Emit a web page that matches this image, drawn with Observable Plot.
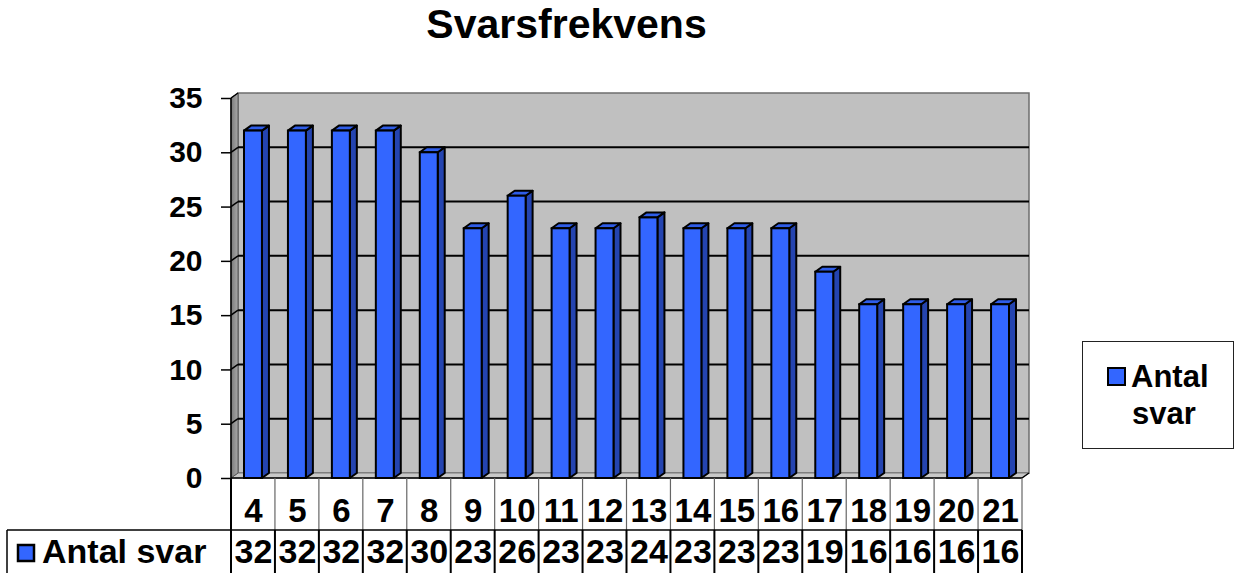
<!DOCTYPE html>
<html>
<head>
<meta charset="utf-8">
<script src="https://cdn.jsdelivr.net/npm/d3@7"></script>
<script src="https://cdn.jsdelivr.net/npm/@observablehq/plot@0.6"></script>
<style>
  html, body { margin: 0; padding: 0; background: #fff; }
  body { width: 1241px; height: 573px; position: relative; overflow: hidden; font-family: "Liberation Sans", Arial, sans-serif; }
  #title { position: relative; height: 60px; }
  #title span { position: absolute; left: 0; width: 1133px; top: 4px; text-align: center; font-size: 41px; line-height: 40px; font-weight: bold; color: #000; }
  #legend { position: absolute; left: 1082px; top: 341px; width: 150px; height: 106px; border: 1px solid #222; background: #fff; }
  #legend .sw { position: absolute; left: 24px; top: 25px; width: 15px; height: 15px; background: #3366ff; border: 2px solid #000; }
  #legend .t { position: absolute; font-size: 31px; line-height: 31px; font-weight: bold; color: #000; white-space: nowrap; }
</style>
</head>
<body>
<div id="title"><span>Svarsfrekvens</span></div>
<div id="chart"></div>
<div id="legend"><div class="sw"></div><div class="t" id="l1" style="left:48px;top:19px"></div><div class="t" id="l2" style="left:49px;top:56px"></div></div>
<script>
// ---- data ----
const categories = ["4","5","6","7","8","9","10","11","12","13","14","15","16","17","18","19","20","21"];
const answers = [32,32,32,32,30,23,26,23,23,24,23,23,23,19,16,16,16,16];
const yTicks = [0,5,10,15,20,25,30,35];
const seriesName = "Antal svar";

const rows = categories.map((c, i) => ({cat: c, value: answers[i]}));

// legend text
document.getElementById("l1").textContent = seriesName.split(" ")[0];
document.getElementById("l2").textContent = seriesName.split(" ")[1];

// ---- 3D styling ----
const DX = 7, DY = 5;
const INSET = 13;
const FRONT = "#3366ff", SIDE = "#2444b0", TOP = "#2f5de8";
const NS = "http://www.w3.org/2000/svg";
function el(tag, attrs = {}) {
  const e = document.createElementNS(NS, tag);
  for (const k in attrs) e.setAttribute(k, attrs[k]);
  return e;
}
function poly(points, attrs) {
  return el("polygon", Object.assign({points: points.map(p => p.join(",")).join(" ")}, attrs));
}
function line(x1, y1, x2, y2, attrs) {
  return el("line", Object.assign({x1, y1, x2, y2}, attrs));
}
function frameGeom(scales) {
  const {x, y} = scales;
  const bw = x(categories[1]) - x(categories[0]);
  const x0 = x(categories[0]);
  const x1 = x(categories[categories.length - 1]) + bw;
  return {x, y, bw, x0, x1, y0: y(0), yTop: y(yTicks[yTicks.length - 1])};
}

// walls + gridlines
function walls(index, scales, values, dims) {
  const {y, x0, x1, y0, yTop} = frameGeom(scales);
  const g = el("g");
  const defs = el("defs");
  const grad = el("linearGradient", {id: "lw", x1: "0", x2: "1", y1: "0", y2: "0"});
  grad.appendChild(el("stop", {offset: "0", "stop-color": "#7a7a7a"}));
  grad.appendChild(el("stop", {offset: "1", "stop-color": "#a8a8a8"}));
  defs.appendChild(grad);
  g.appendChild(defs);
  g.appendChild(poly([[x0 + DX, yTop - DY], [x1 + DX, yTop - DY], [x1 + DX, y0 - DY], [x0 + DX, y0 - DY]],
    {fill: "#c0c0c0", stroke: "#6e6e6e", "stroke-width": 1.5}));
  g.appendChild(poly([[x0, y0], [x1, y0], [x1 + DX, y0 - DY], [x0 + DX, y0 - DY]],
    {fill: "#c8c8c8", stroke: "#7a7a7a", "stroke-width": 1}));
  g.appendChild(poly([[x0, yTop], [x0 + DX, yTop - DY], [x0 + DX, y0 - DY], [x0, y0]],
    {fill: "url(#lw)", stroke: "#555", "stroke-width": 1}));
  for (const t of yTicks) {
    if (t === 0) continue;
    const yy = y(t);
    if (t !== yTicks[yTicks.length - 1]) {
      g.appendChild(line(x0 + DX, yy - DY, x1 + DX, yy - DY, {stroke: "#000", "stroke-width": 2}));
    }
    g.appendChild(line(x0, yy, x0 + DX, yy - DY, {stroke: "#000", "stroke-width": 1.5}));
  }
  g.appendChild(line(x0, yTop, x0, y0, {stroke: "#000", "stroke-width": 1.5}));
  g.appendChild(line(x0, y0, x1, y0, {stroke: "#000", "stroke-width": 1.5}));
  g.appendChild(line(x1, y0, x1 + DX, y0 - DY, {stroke: "#000", "stroke-width": 1.5}));
  return g;
}

// side and top faces of bars
function barDepth(index, scales, values, dims) {
  const {x, y, bw, y0} = frameGeom(scales);
  const g = el("g");
  for (const r of rows) {
    const xl = x(r.cat) + INSET, xr = x(r.cat) + bw - INSET, yt = y(r.value);
    g.appendChild(poly([[xr, yt], [xr + DX, yt - DY], [xr + DX, y0 - DY], [xr, y0]],
      {fill: SIDE, stroke: "#000", "stroke-width": 2, "stroke-linejoin": "round"}));
    g.appendChild(poly([[xl, yt], [xr, yt], [xr + DX, yt - DY], [xl + DX, yt - DY]],
      {fill: TOP, stroke: "#000", "stroke-width": 2, "stroke-linejoin": "round"}));
  }
  return g;
}

// data table grid + row label
function tableGrid(index, scales, values, dims) {
  const {x, bw, x0, x1, y0} = frameGeom(scales);
  const g = el("g");
  const yRow = y0 + 52, yEnd = dims.height;
  for (let i = 0; i <= categories.length; i++) {
    const xx = i < categories.length ? x(categories[i]) : x1;
    g.appendChild(line(xx, y0, xx, yRow, {stroke: i === 0 ? "#000" : "#666", "stroke-width": i === 0 ? 2 : 1.2}));
    g.appendChild(line(xx, yRow, xx, yEnd, {stroke: "#000", "stroke-width": 2}));
  }
  g.appendChild(line(7, yRow, x1, yRow, {stroke: "#000", "stroke-width": 1.5}));
  g.appendChild(line(7, yRow, 7, yEnd, {stroke: "#000", "stroke-width": 1.5}));
  g.appendChild(el("rect", {x: 18, y: yRow + 15, width: 16, height: 16, fill: FRONT, stroke: "#000", "stroke-width": 2.5}));
  const t = el("text", {x: 42, y: yRow + 33, "text-anchor": "start", "font-size": 34, "font-weight": "bold", fill: "#000", "font-family": "Liberation Sans, Arial, sans-serif"});
  t.textContent = seriesName;
  g.appendChild(t);
  return g;
}

const chart = Plot.plot({
  width: 1241,
  height: 513,
  marginTop: 38,
  marginBottom: 95,
  marginLeft: 231,
  marginRight: 219,
  x: {type: "band", domain: categories, padding: 0, round: false, axis: null},
  y: {domain: [0, 35], axis: null},
  style: {fontFamily: "Liberation Sans, Arial, sans-serif", background: "white", overflow: "visible", color: "#000"},
  marks: [
    walls,
    barDepth,
    Plot.rectY(rows, {x: "cat", y: "value", fill: FRONT, stroke: "#000", strokeWidth: 2, insetLeft: INSET, insetRight: INSET}),
    Plot.axisY({ticks: yTicks, tickSize: 10, tickPadding: 19, fontSize: 30, fontWeight: "bold", label: null, stroke: "#000", strokeWidth: 1.5}),
    tableGrid,
    Plot.text(rows, {x: "cat", text: "cat", frameAnchor: "bottom", lineAnchor: "middle", dy: 33, fontSize: 33, fontWeight: "bold", fill: "#000"}),
    Plot.text(rows, {x: "cat", text: d => String(d.value), frameAnchor: "bottom", lineAnchor: "middle", dy: 74, fontSize: 34, fontWeight: "bold", fill: "#000"})
  ]
});
document.getElementById("chart").appendChild(chart);
</script>
</body>
</html>
